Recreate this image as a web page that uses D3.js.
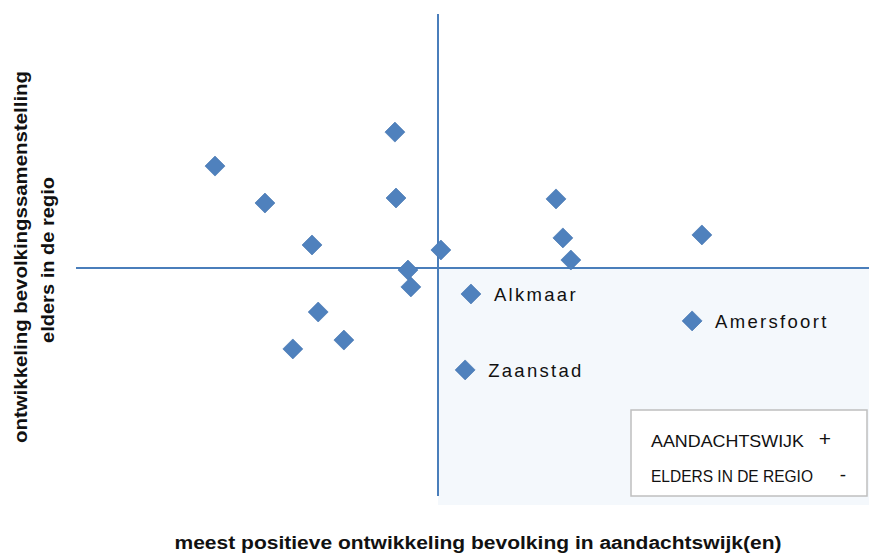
<!DOCTYPE html>
<html><head><meta charset="utf-8">
<script src="https://cdn.jsdelivr.net/npm/d3@7/dist/d3.min.js"></script>
<style>body{margin:0;background:#fff}svg{display:block}</style>
</head><body>
<script>
// data (arbitrary units; 0,0 = quadrant crossing)
const xValues = [-0.616,-0.478,-0.348,-0.119,-0.116,-0.083,-0.075,-0.331,-0.260,-0.401,0.008,0.326,0.345,0.367,0.729,0.091,0.702,0.075];
const yValues = [0.447,0.285,0.101,0.596,0.307,-0.009,-0.083,-0.193,-0.316,-0.355,0.079,0.303,0.132,0.035,0.145,-0.114,-0.232,-0.447];
const pointLabels = ["","","","","","","","","","","","","","","","Alkmaar","Amersfoort","Zaanstad"];
const legendLines = ["AANDACHTSWIJK", "ELDERS IN DE REGIO"];
const legendSigns = ["+", "-"];
const xTitle = "meest positieve ontwikkeling bevolking in aandachtswijk(en)";
const yTitle = ["ontwikkeling bevolkingssamenstelling", "elders in de regio"];

const W = 869, H = 553;
const font = "Liberation Sans, Arial, sans-serif";
const svg = d3.select("body").append("svg").attr("width", W).attr("height", H);
const x = d3.scaleLinear().domain([-1, 1]).range([76, 800]);
const y = d3.scaleLinear().domain([-1, 1]).range([496, 40]);
const blue = "#4f81bd", line = "#4a7ebb";

// shaded quadrant
svg.append("rect").attr("x", x(0)).attr("y", y(0))
  .attr("width", W - x(0)).attr("height", 505 - y(0)).attr("fill", "#f4f8fc");

// quadrant lines
svg.append("line").attr("x1", x.range()[0]).attr("x2", W).attr("y1", y(0)).attr("y2", y(0))
  .attr("stroke", line).attr("stroke-width", 2);
svg.append("line").attr("x1", x(0)).attr("x2", x(0)).attr("y1", 14).attr("y2", 496)
  .attr("stroke", line).attr("stroke-width", 2);

// points
const pts = xValues.map((v, i) => ({x: v, y: yValues[i], label: pointLabels[i]}));
svg.append("g").selectAll("path").data(pts).join("path")
  .attr("d", d3.symbol().type(d3.symbolSquare).size(200))
  .attr("transform", d => `translate(${x(d.x)},${y(d.y)}) rotate(45)`)
  .attr("fill", blue).attr("stroke", "#4575b0").attr("stroke-width", 0.6);

svg.append("g").selectAll("text").data(pts.filter(d => d.label)).join("text")
  .attr("x", d => x(d.x) + 23).attr("y", d => y(d.y) + 7)
  .attr("font-family", font).attr("font-size", 18.5)
  .attr("letter-spacing", 2.3).attr("fill", "#111").text(d => d.label);

// legend box
svg.append("rect").attr("x", 631).attr("y", 410).attr("width", 236).attr("height", 86)
  .attr("fill", "#fff").attr("stroke", "#bfbfbf").attr("stroke-width", 1.5);
const lg = svg.append("g").attr("font-family", font).attr("fill", "#111");
const lens = [153, 162];
legendLines.forEach((t, i) => {
  lg.append("text").attr("x", 651).attr("y", 447 + i * 35).attr("font-size", 17)
    .attr("textLength", lens[i]).attr("lengthAdjust", "spacingAndGlyphs").text(t);
});
lg.append("text").attr("x", 825).attr("y", 446).attr("font-size", 21).attr("text-anchor", "middle").text(legendSigns[0]);
lg.append("text").attr("x", 843).attr("y", 481).attr("font-size", 19).attr("text-anchor", "middle").text(legendSigns[1]);

// axis titles
svg.append("text").attr("x", 478).attr("y", 549).attr("text-anchor", "middle")
  .attr("font-family", font).attr("font-weight", "bold").attr("font-size", 17.5)
  .attr("textLength", 607).attr("lengthAdjust", "spacingAndGlyphs").attr("fill", "#111").text(xTitle);
const ylens = [372, 166];
const ybase = [27, 54];
yTitle.forEach((t, i) => {
  svg.append("text").attr("transform", `translate(${ybase[i]},${i === 0 ? 257 : 260}) rotate(-90)`)
    .attr("text-anchor", "middle").attr("font-family", font)
    .attr("font-weight", "bold").attr("font-size", 17.5)
    .attr("textLength", ylens[i]).attr("lengthAdjust", "spacingAndGlyphs").attr("fill", "#111").text(t);
});
</script>
</body></html>
